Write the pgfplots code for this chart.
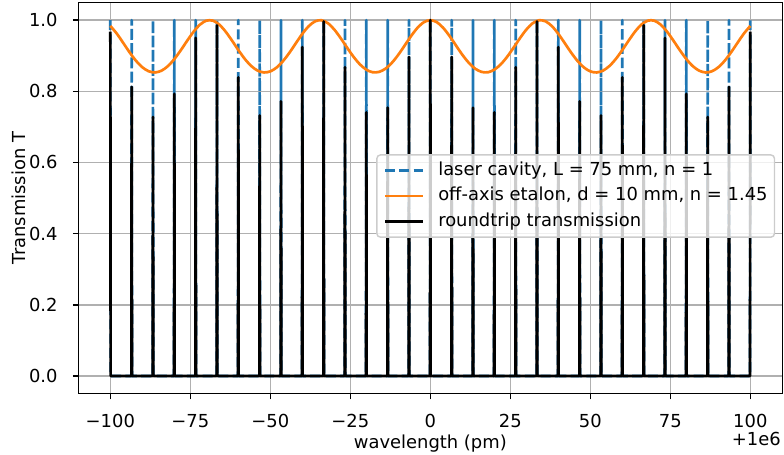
\documentclass[border=0pt]{standalone}
\usepackage{fontspec}
\setmainfont{DejaVu Sans}
\usepackage{pgfplots}
\pgfplotsset{compat=1.18}
\usepackage{pgfplotstable}
\definecolor{c0}{HTML}{1F77B4}
\definecolor{c1}{HTML}{FF7F0E}
\definecolor{gridc}{HTML}{B0B0B0}
\definecolor{legc}{HTML}{CCCCCC}

\pgfplotstableread{
x t
-100 0.9838
-98 0.9624
-96 0.9364
-94 0.9098
-92 0.8860
-90 0.8676
-88 0.8563
-86 0.8530
-84 0.8580
-82 0.8709
-80 0.8906
-78 0.9152
-76 0.9420
-74 0.9673
-72 0.9873
-70 0.9985
-68 0.9987
-66 0.9879
-64 0.9681
-62 0.9429
-60 0.9161
-58 0.8913
-56 0.8714
-54 0.8583
-52 0.8530
-50 0.8560
-48 0.8671
-46 0.8853
-44 0.9089
-42 0.9355
-40 0.9615
-38 0.9832
-36 0.9967
-34 0.9997
-32 0.9914
-30 0.9735
-28 0.9492
-26 0.9225
-24 0.8970
-22 0.8757
-20 0.8608
-18 0.8535
-16 0.8546
-14 0.8637
-12 0.8803
-10 0.9028
-8 0.9290
-6 0.9555
-4 0.9786
-2 0.9944
0 1.0000
2 0.9944
4 0.9786
6 0.9555
8 0.9290
10 0.9028
12 0.8803
14 0.8637
16 0.8546
18 0.8535
20 0.8608
22 0.8757
24 0.8970
26 0.9225
28 0.9492
30 0.9735
32 0.9914
34 0.9997
36 0.9967
38 0.9832
40 0.9615
42 0.9355
44 0.9089
46 0.8853
48 0.8671
50 0.8560
52 0.8530
54 0.8583
56 0.8714
58 0.8913
60 0.9161
62 0.9429
64 0.9681
66 0.9879
68 0.9987
70 0.9985
72 0.9873
74 0.9673
76 0.9420
78 0.9152
80 0.8906
82 0.8709
84 0.8580
86 0.8530
88 0.8563
90 0.8676
92 0.8860
94 0.9098
96 0.9364
98 0.9624
100 0.9838
}\etalon

\pgfplotstableread{
x cav rt
-100 1 0.9679
-99.9 0 0
-93.43 0 0
-93.33 1 0.8125
-93.23 0 0
-86.77 0 0
-86.67 1 0.7280
-86.57 0 0
-80.1 0 0
-80 1 0.7930
-79.9 0 0
-73.43 0 0
-73.33 1 0.9502
-73.23 0 0
-66.77 0 0
-66.67 1 0.9852
-66.57 0 0
-60.1 0 0
-60 1 0.8392
-59.9 0 0
-53.43 0 0
-53.33 1 0.7321
-53.23 0 0
-46.77 0 0
-46.67 1 0.7718
-46.57 0 0
-40.1 0 0
-40 1 0.9245
-39.9 0 0
-33.43 0 0
-33.33 1 0.9962
-33.23 0 0
-26.77 0 0
-26.67 1 0.8676
-26.57 0 0
-20.1 0 0
-20 1 0.7410
-19.9 0 0
-13.43 0 0
-13.33 1 0.7542
-13.23 0 0
-6.77 0 0
-6.67 1 0.8965
-6.57 0 0
-0.1 0 0
0 1 1
0.1 0 0
6.57 0 0
6.67 1 0.8965
6.77 0 0
13.23 0 0
13.33 1 0.7542
13.43 0 0
19.9 0 0
20 1 0.7410
20.1 0 0
26.57 0 0
26.67 1 0.8676
26.77 0 0
33.23 0 0
33.33 1 0.9962
33.43 0 0
39.9 0 0
40 1 0.9245
40.1 0 0
46.57 0 0
46.67 1 0.7718
46.77 0 0
53.23 0 0
53.33 1 0.7321
53.43 0 0
59.9 0 0
60 1 0.8392
60.1 0 0
66.57 0 0
66.67 1 0.9852
66.77 0 0
73.23 0 0
73.33 1 0.9502
73.43 0 0
79.9 0 0
80 1 0.7930
80.1 0 0
86.57 0 0
86.67 1 0.7280
86.77 0 0
93.23 0 0
93.33 1 0.8125
93.43 0 0
99.9 0 0
100 1 0.9679
}\spikes

\begin{document}
\fontsize{12.9pt}{15.5pt}\selectfont
\begin{tikzpicture}
\begin{axis}[
  name=ax, at={(0,0)}, anchor=south west,
  scale only axis, width=506.9pt, height=281.8pt,
  xmin=-110, xmax=110, ymin=-0.05, ymax=1.05,
  xtick={-100,-75,-50,-25,0,25,50,75,100},
  xticklabels={−100,−75,−50,−25,0,25,50,75,100},
  ytick={0,0.2,0.4,0.6,0.8,1.0},
  yticklabels={0.0,0.2,0.4,0.6,0.8,1.0},
  xtick pos=lower, ytick pos=left,
  tick align=outside, major tick length=4pt,
  tick style={black, line width=1.03pt},
  axis line style={line width=1.03pt},
  grid=major, major grid style={gridc, line width=1.03pt},
  xticklabel style={anchor=base, inner sep=0pt, yshift=-20pt},
  yticklabel style={anchor=east, inner sep=0pt, xshift=-10.8pt},
  xlabel={wavelength (pm)},
  xlabel style={at={(axis description cs:0.5,-0.139)}, anchor=base, inner sep=0pt},
  ylabel={Transmission T},
  ylabel style={at={(axis description cs:-0.0842,0.5)}, anchor=center, inner sep=0pt},
  legend cell align=left,
  legend image code/.code={\draw[#1] (0pt,0pt) -- (27.4pt,0pt);},
  legend style={at={(axis description cs:0.4230,0.6120)}, anchor=north west,
    draw=legc, line width=1.03pt, fill=white, fill opacity=0.8, text opacity=1,
    rounded corners=2.6pt, inner xsep=5pt, inner ysep=4.8pt,
    row sep=5.6pt, column sep=9.9pt,
    nodes={inner sep=0pt, text height=9.7pt, text depth=3.1pt}},
]
\addplot[c0, line width=1.93pt, line join=round, dash pattern=on 7.16pt off 3.1pt] table[x=x, y=cav] {\spikes};
\addlegendentry{laser cavity, L = 75 mm, n = 1}
\addplot[c1, line width=1.93pt, line join=round, smooth] table[x=x, y=t] {\etalon};
\addlegendentry{off-axis etalon, d = 10 mm, n = 1.45}
\addplot[black, line width=1.93pt, line join=round] table[x=x, y=rt] {\spikes};
\addlegendentry{roundtrip transmission}
\end{axis}
\node[anchor=base east, inner sep=0pt] at ([xshift=-0.9pt,yshift=-37.2pt]ax.south east) {+1e6};
\pgfresetboundingbox
\path ([xshift=-56.4pt,yshift=-44.1pt]ax.south west) rectangle ([xshift=1.2pt,yshift=1.7pt]ax.north east);
\end{tikzpicture}
\end{document}
